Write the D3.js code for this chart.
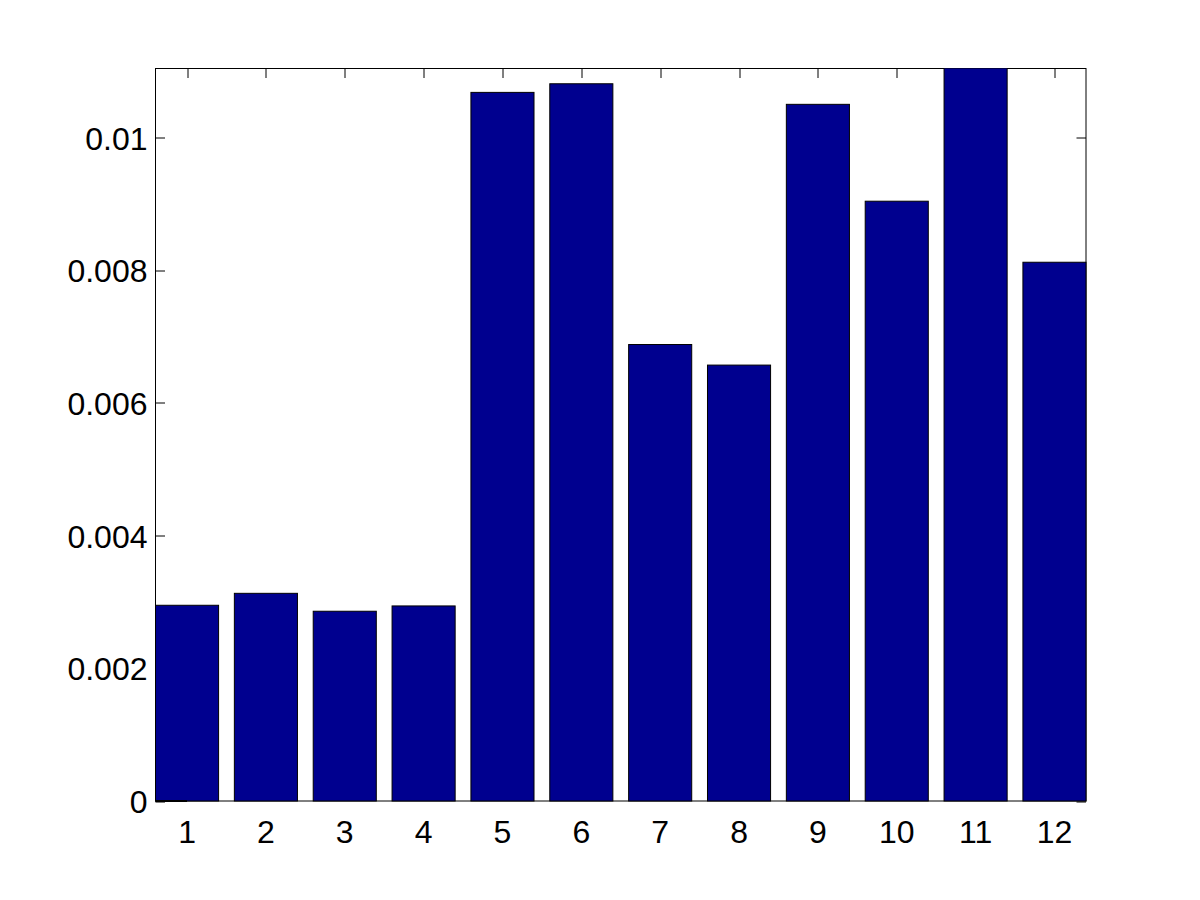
<!DOCTYPE html>
<html>
<head>
<meta charset="utf-8">
<script src="https://cdn.jsdelivr.net/npm/d3@7"></script>
<style>
  body { margin: 0; background: #fff; }
  text { font-family: "Liberation Sans", Arial, sans-serif; }
</style>
</head>
<body>
<svg id="chart" width="1200" height="900"></svg>
<script>
// data
var categories = [1, 2, 3, 4, 5, 6, 7, 8, 9, 10, 11, 12];
var values = [0.00295, 0.00313, 0.00286, 0.00294, 0.01068, 0.01081,
              0.00688, 0.00657, 0.01050, 0.00904, 0.01120, 0.00812];
var yTicks = [0, 0.002, 0.004, 0.006, 0.008, 0.01];
var yTickLabels = ["0", "0.002", "0.004", "0.006", "0.008", "0.01"];

var barColor = "#00008f";

var svg = d3.select("#chart");
var margin = {left: 155.5, top: 68.5, right: 114, bottom: 99};
var W = 1200, H = 900;
var plotW = W - margin.left - margin.right;
var plotH = H - margin.top - margin.bottom;

var x = d3.scaleLinear().domain([0.6, 12.4]).range([0, plotW]);
var y = d3.scaleLinear().domain([0, 0.01104]).range([plotH, 0]);

var g = svg.append("g").attr("transform", "translate(" + margin.left + "," + margin.top + ")");

g.append("clipPath").attr("id", "clip")
  .append("rect").attr("x", -1).attr("y", 0).attr("width", plotW + 2).attr("height", plotH + 1);

var tickLen = 9.5;

// ticks (inside, all four sides) - drawn under the bars
var ticks = g.append("g").attr("stroke", "#000").attr("stroke-width", 1);
categories.forEach(function(c) {
  var px = Math.round(x(c)) + 0.5;
  ticks.append("line").attr("x1", px).attr("x2", px).attr("y1", 0).attr("y2", tickLen);
  ticks.append("line").attr("x1", px).attr("x2", px).attr("y1", plotH).attr("y2", plotH - tickLen);
});
yTicks.forEach(function(t) {
  var py = Math.round(y(t)) + 0.5;
  ticks.append("line").attr("x1", 0).attr("x2", tickLen).attr("y1", py).attr("y2", py);
  ticks.append("line").attr("x1", plotW).attr("x2", plotW - tickLen).attr("y1", py).attr("y2", py);
});

// box
g.append("rect")
  .attr("x", 0).attr("y", 0).attr("width", plotW).attr("height", plotH)
  .attr("fill", "none").attr("stroke", "#000").attr("stroke-width", 1);

// bars
var barW = 0.8;
g.append("g").attr("clip-path", "url(#clip)")
  .selectAll("rect")
  .data(values)
  .enter()
  .append("rect")
  .attr("x", function(d, i) { return x(categories[i] - barW / 2); })
  .attr("width", function() { return x(1 + barW / 2) - x(1 - barW / 2); })
  .attr("y", function(d) { return y(d); })
  .attr("height", function(d) { return y(0) - y(d); })
  .attr("fill", barColor)
  .attr("stroke", "#000")
  .attr("stroke-width", 1);

// baseline stub under first bar
g.append("line")
  .attr("x1", x(0.6)).attr("x2", x(1))
  .attr("y1", plotH).attr("y2", plotH)
  .attr("stroke", "#000").attr("stroke-width", 2);

// tick labels
g.append("g").selectAll("text")
  .data(categories)
  .enter()
  .append("text")
  .attr("x", function(d) { return x(d); })
  .attr("y", plotH + 42)
  .attr("text-anchor", "middle")
  .attr("font-size", 32)
  .attr("fill", "#000")
  .text(function(d) { return d; });

g.append("g").selectAll("text")
  .data(yTicks)
  .enter()
  .append("text")
  .attr("x", -8)
  .attr("y", function(d) { return y(d); })
  .attr("dy", "0.38em")
  .attr("text-anchor", "end")
  .attr("font-size", 32)
  .attr("fill", "#000")
  .text(function(d, i) { return yTickLabels[i]; });
</script>
</body>
</html>
